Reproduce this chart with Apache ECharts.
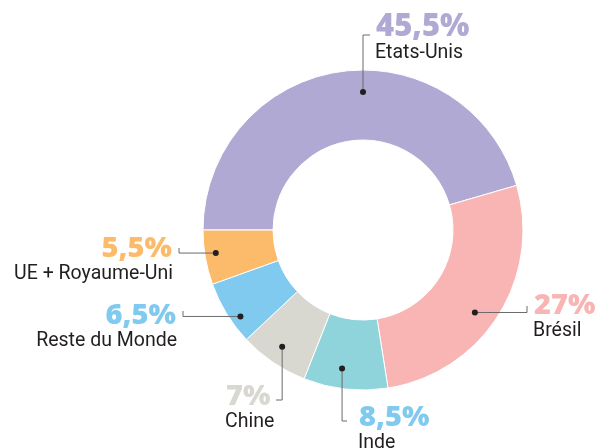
<!DOCTYPE html>
<html>
<head>
<meta charset="utf-8">
<script src="https://cdn.jsdelivr.net/npm/echarts@6/dist/echarts.min.js"></script>
<style>
  html, body { margin: 0; padding: 0; background: #fff; }
  #chart { width: 595px; height: 448px; }
</style>
</head>
<body>
<div id="chart"></div>
<script>
// Répartition par origine (en %)
const categories = ['Etats-Unis', 'Brésil', 'Inde', 'Chine', 'Reste du Monde', 'UE + Royaume-Uni'];
const shares = [45.5, 27, 8.5, 7, 6.5, 5.5];

const sliceColors = ['#AFA9D4', '#F8B5B3', '#8FD3DB', '#D8D7D0', '#80CAEF', '#FBBB6B'];
const pctColors   = ['#AFA9D4', '#F8B5B3', '#80CAEF', '#D8D7D0', '#80CAEF', '#FBBB6B'];

// Callout placement: dot on the ring (angle offset from mid-angle, radius),
// leader route and text baseline anchor.
const callouts = {
  'Etats-Unis':       { da: -8.1, r: 138, route: 'v', turn: 35,  end: 370, tx: 376, ty: 36,  align: 'left',  big: true },
  'Brésil':           { da: -4,   r: 139, route: 'h', turn: 527, end: 306, tx: 534, ty: 314, align: 'left' },
  'Inde':             { da: -2.3, r: 140, route: 'v', turn: 421, end: 347, tx: 359, ty: 426, align: 'left' },
  'Chine':            { da: -0.5, r: 142, route: 'v', turn: 400, end: 276, tx: 226, ty: 405, align: 'left' },
  'Reste du Monde':   { da: 3.7,  r: 150, route: 'h', turn: 183, end: 311, tx: 176, ty: 324, align: 'right' },
  'UE + Royaume-Uni': { da: -1,   r: 149, route: 'h', turn: 179, end: 248, tx: 172, ty: 257, align: 'right' }
};

const chart = echarts.init(document.getElementById('chart'), null, { renderer: 'canvas' });

chart.setOption({
  animation: false,
  backgroundColor: '#fff',
  series: [{
    type: 'pie',
    center: [363, 230],
    radius: [90, 160],
    startAngle: 180,
    clockwise: true,
    avoidLabelOverlap: false,
    label: { show: false },
    labelLine: { show: false },
    emphasis: { disabled: true },
    itemStyle: { borderColor: '#fff', borderWidth: 1 },
    data: categories.map((name, i) => ({
      name: name,
      value: shares[i],
      itemStyle: { color: sliceColors[i] }
    }))
  }]
});

function fmtPct(v) {
  return String(v).replace('.', ',') + '%';
}

// Build dots, leader lines and texts from the pie's own sector layout
const data = chart.getModel().getSeriesByIndex(0).getData();
const graphics = [];
categories.forEach((name, i) => {
  const lay = data.getItemLayout(i);
  const c = callouts[name];
  const midDeg = -((lay.startAngle + lay.endAngle) / 2) * 180 / Math.PI;
  const a = (midDeg + c.da) * Math.PI / 180;
  const dx = lay.cx + c.r * Math.cos(a);
  const dy = lay.cy - c.r * Math.sin(a);

  let pts;
  if (c.route === 'v') {
    pts = [[dx, dy], [dx, c.turn], [c.end, c.turn]];
  } else {
    pts = [[dx, dy], [c.turn, dy], [c.turn, c.end]];
  }
  graphics.push({
    type: 'polyline',
    shape: { points: pts },
    style: { stroke: '#6b6b6b', lineWidth: 1, fill: null },
    z: 10
  });
  graphics.push({
    type: 'circle',
    shape: { cx: dx, cy: dy, r: 3 },
    style: { fill: '#231F20' },
    z: 11
  });
  const pctSize = c.big ? 31 : 29;
  graphics.push({
    type: 'text',
    style: {
      x: c.tx, y: c.ty - (c.big ? 24 : 23),
      text: fmtPct(shares[i]),
      fill: pctColors[i],
      font: '800 ' + pctSize + 'px "Open Sans"',
      textAlign: c.align,
      textVerticalAlign: 'top'
    },
    z: 12
  });
  graphics.push({
    type: 'text',
    style: {
      x: c.tx + (c.align === 'left' ? -1 : 1), y: c.ty + 22 - 15,
      text: name,
      fill: '#231F20',
      font: '400 19.5px Roboto',
      textAlign: c.align,
      textVerticalAlign: 'top'
    },
    z: 12
  });
});

chart.setOption({ graphic: graphics });
</script>
</body>
</html>
